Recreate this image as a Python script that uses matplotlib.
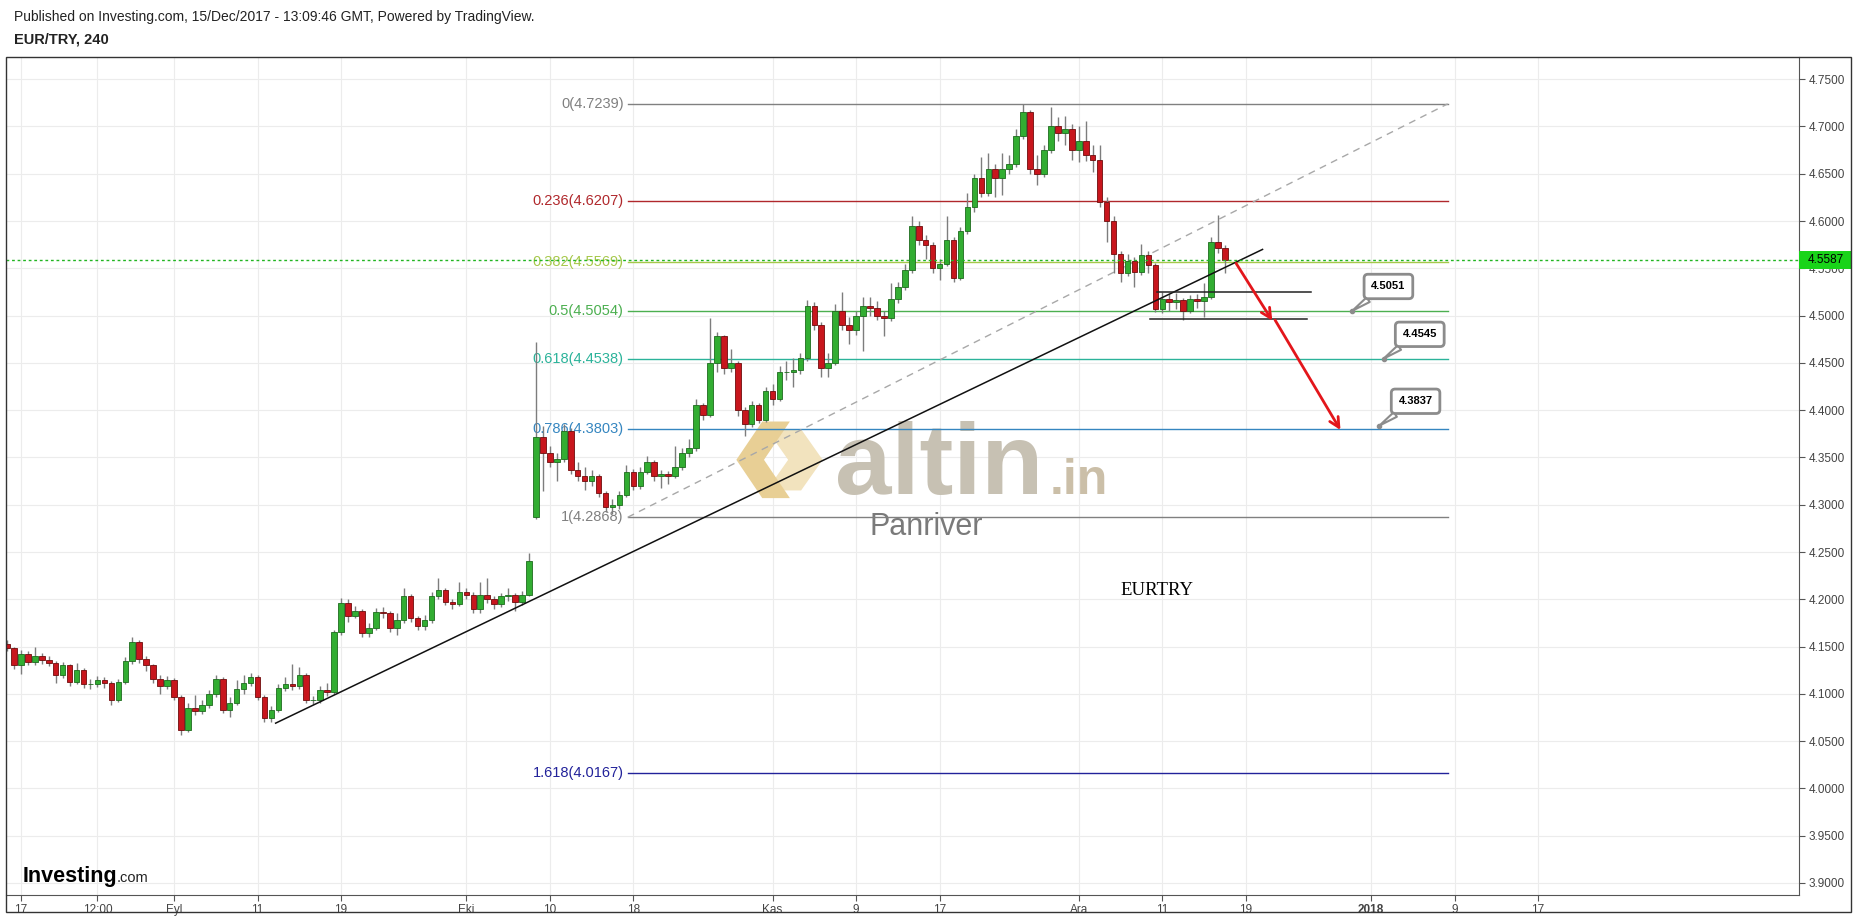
import numpy as np
import matplotlib
matplotlib.use("Agg")
import matplotlib.pyplot as plt
from matplotlib.patches import Rectangle, Polygon

plt.rcParams["font.family"] = ["Liberation Sans", "DejaVu Sans"]

# EUR/TRY, 12h candles (x = trading days from 1 Sep 2017)
bar_start = -12.0
bar_step = 0.5
first_open = 4.153
gap_opens = {76: 4.287}

closes = [
    4.148, 4.130, 4.142, 4.134, 4.140, 4.136, 4.133, 4.120, 4.130, 4.113,
    4.125, 4.110, 4.110, 4.115, 4.112, 4.093, 4.113, 4.135, 4.155, 4.137,
    4.130, 4.116, 4.108, 4.115, 4.097, 4.062, 4.085, 4.082, 4.088, 4.100,
    4.116, 4.083, 4.090, 4.105, 4.112, 4.118, 4.097, 4.074, 4.083, 4.106,
    4.110, 4.108, 4.120, 4.093, 4.093, 4.104, 4.102, 4.165, 4.196, 4.182,
    4.188, 4.164, 4.170, 4.187, 4.185, 4.170, 4.178, 4.204, 4.180, 4.172,
    4.178, 4.203, 4.210, 4.197, 4.195, 4.208, 4.205, 4.190, 4.205, 4.200,
    4.195, 4.203, 4.205, 4.197, 4.205, 4.240, 4.372, 4.355, 4.345, 4.348,
    4.378, 4.337, 4.330, 4.325, 4.330, 4.312, 4.298, 4.300, 4.310, 4.335,
    4.320, 4.335, 4.345, 4.330, 4.332, 4.330, 4.340, 4.355, 4.360, 4.405,
    4.395, 4.450, 4.478, 4.445, 4.450, 4.400, 4.385, 4.405, 4.390, 4.420,
    4.412, 4.440, 4.440, 4.443, 4.455, 4.510, 4.490, 4.445, 4.450, 4.505,
    4.490, 4.485, 4.500, 4.510, 4.508, 4.500, 4.497, 4.518, 4.530, 4.548,
    4.595, 4.580, 4.575, 4.550, 4.555, 4.580, 4.540, 4.590, 4.615, 4.645,
    4.630, 4.655, 4.645, 4.655, 4.660, 4.690, 4.715, 4.655, 4.650, 4.675,
    4.700, 4.693, 4.697, 4.675, 4.685, 4.670, 4.665, 4.620, 4.600, 4.565,
    4.545, 4.558, 4.546, 4.564, 4.553, 4.507, 4.518, 4.514, 4.516, 4.505,
    4.518, 4.515, 4.520, 4.578, 4.572, 4.5587,
]
highs = [
    4.157, 4.150, 4.146, 4.145, 4.150, 4.143, 4.140, 4.135, 4.134, 4.132,
    4.133, 4.127, 4.116, 4.119, 4.118, 4.114, 4.116, 4.139, 4.160, 4.157,
    4.140, 4.132, 4.120, 4.119, 4.117, 4.099, 4.090, 4.099, 4.094, 4.104,
    4.120, 4.118, 4.097, 4.115, 4.120, 4.122, 4.120, 4.099, 4.087, 4.110,
    4.118, 4.132, 4.128, 4.122, 4.098, 4.108, 4.112, 4.168, 4.201, 4.200,
    4.193, 4.190, 4.175, 4.191, 4.192, 4.188, 4.185, 4.212, 4.206, 4.182,
    4.183, 4.208, 4.223, 4.212, 4.200, 4.218, 4.212, 4.208, 4.218, 4.222,
    4.204, 4.207, 4.212, 4.207, 4.209, 4.249, 4.472, 4.383, 4.362, 4.355,
    4.385, 4.381, 4.345, 4.340, 4.337, 4.333, 4.314, 4.306, 4.314, 4.342,
    4.338, 4.340, 4.352, 4.347, 4.337, 4.336, 4.362, 4.360, 4.370, 4.412,
    4.408, 4.497, 4.483, 4.480, 4.465, 4.452, 4.403, 4.410, 4.408, 4.425,
    4.428, 4.447, 4.452, 4.455, 4.460, 4.516, 4.514, 4.493, 4.460, 4.512,
    4.525, 4.498, 4.505, 4.520, 4.520, 4.515, 4.505, 4.535, 4.536, 4.555,
    4.605, 4.600, 4.585, 4.578, 4.560, 4.605, 4.583, 4.594, 4.630, 4.650,
    4.668, 4.672, 4.660, 4.672, 4.670, 4.697, 4.724, 4.717, 4.670, 4.680,
    4.721, 4.710, 4.711, 4.703, 4.700, 4.706, 4.680, 4.680, 4.625, 4.605,
    4.568, 4.565, 4.562, 4.576, 4.568, 4.556, 4.525, 4.523, 4.524, 4.519,
    4.522, 4.523, 4.535, 4.583, 4.606, 4.575,
]
lows = [
    4.145, 4.126, 4.121, 4.130, 4.131, 4.132, 4.129, 4.112, 4.117, 4.108,
    4.110, 4.106, 4.105, 4.107, 4.106, 4.088, 4.091, 4.110, 4.132, 4.133,
    4.124, 4.112, 4.100, 4.105, 4.094, 4.057, 4.060, 4.078, 4.079, 4.085,
    4.097, 4.080, 4.076, 4.088, 4.100, 4.108, 4.094, 4.070, 4.070, 4.081,
    4.103, 4.104, 4.105, 4.090, 4.089, 4.090, 4.098, 4.100, 4.162, 4.176,
    4.180, 4.160, 4.160, 4.167, 4.180, 4.165, 4.162, 4.175, 4.176, 4.168,
    4.167, 4.175, 4.200, 4.194, 4.190, 4.193, 4.200, 4.186, 4.185, 4.196,
    4.190, 4.192, 4.198, 4.188, 4.194, 4.203, 4.285, 4.314, 4.340, 4.325,
    4.345, 4.333, 4.325, 4.316, 4.320, 4.308, 4.292, 4.290, 4.296, 4.308,
    4.316, 4.317, 4.332, 4.325, 4.318, 4.322, 4.328, 4.337, 4.350, 4.357,
    4.390, 4.393, 4.440, 4.438, 4.440, 4.394, 4.373, 4.382, 4.386, 4.387,
    4.405, 4.410, 4.432, 4.425, 4.438, 4.452, 4.485, 4.435, 4.435, 4.448,
    4.485, 4.470, 4.480, 4.463, 4.500, 4.495, 4.478, 4.494, 4.513, 4.527,
    4.545, 4.575, 4.560, 4.545, 4.538, 4.552, 4.536, 4.538, 4.586, 4.610,
    4.625, 4.627, 4.625, 4.628, 4.650, 4.657, 4.687, 4.650, 4.638, 4.647,
    4.672, 4.685, 4.680, 4.665, 4.662, 4.663, 4.652, 4.615, 4.578, 4.545,
    4.536, 4.542, 4.530, 4.543, 4.545, 4.504, 4.503, 4.505, 4.507, 4.495,
    4.503, 4.508, 4.498, 4.518, 4.566, 4.545,
]

# Fibonacci retracement drawn on the chart
fib_ratios = ["0", "0.236", "0.382", "0.5", "0.618", "0.786", "1", "1.618"]
fib_prices = [4.7239, 4.6207, 4.5569, 4.5054, 4.4538, 4.3803, 4.2868, 4.0167]
fib_colors = ["#808080", "#b0282c", "#a6c84a", "#4caf50", "#2bb39a",
              "#3586c0", "#808080", "#22229a"]
fib_span = [32.6, 91.5]

trend_x = [7.3, 78.2]
trend_y = [4.069, 4.570]
range_lines = [(70.6, 81.7, 4.5253), (70.1, 81.4, 4.4961)]
red_arrows = [((76.3, 4.5553), (78.9, 4.4946)), ((79.1, 4.4953), (83.8, 4.379))]
target_values = [4.5051, 4.4545, 4.3837]
target_x = [84.65, 86.9, 86.6]
last_price = 4.5587

x_tick_pos = [-11, -5.5, 0, 6, 12, 21, 27, 33, 43, 49, 55, 65, 71, 77, 86, 92, 98]
x_tick_labels = ["17", "12:00", "Eyl", "11", "19", "Eki", "10", "18", "Kas",
                 "9", "17", "Ara", "11", "19", "2018", "9", "17"]
y_ticks = [3.90, 3.95, 4.00, 4.05, 4.10, 4.15, 4.20, 4.25, 4.30, 4.35,
           4.40, 4.45, 4.50, 4.55, 4.60, 4.65, 4.70, 4.75]


def main() -> None:
    W, H = 1853, 918
    fig = plt.figure(figsize=(W / 100, H / 100), dpi=100)
    ax = fig.add_axes([6 / W, 1 - 894.6 / H, (1799 - 6) / W, (894.6 - 56.7) / H])
    ax.set_xlim(-12.07, 116.74)
    ax.set_ylim(3.8877, 4.7738)

    # candles
    xs = bar_start + bar_step * np.arange(len(closes))
    opens = [first_open] + closes[:-1]
    for k, v in gap_opens.items():
        opens[k] = v
    o = np.array(opens)
    c = np.array(closes)
    hi = np.maximum(np.array(highs), np.maximum(o, c))
    lo = np.minimum(np.array(lows), np.minimum(o, c))
    up = c >= o
    ax.vlines(xs, lo, hi, color="#7d7d7d", lw=1, zorder=3)
    body_h = np.maximum(np.abs(c - o), 0.0008)
    ax.bar(xs[up], body_h[up], bottom=np.minimum(o, c)[up], width=0.4,
           color="#32ad32", edgecolor="#1d6b1d", lw=0.6, zorder=4)
    ax.bar(xs[~up], body_h[~up], bottom=np.minimum(o, c)[~up], width=0.4,
           color="#c8161d", edgecolor="#6e0c0c", lw=0.6, zorder=4)

    # fibonacci levels
    for r, p, col in zip(fib_ratios, fib_prices, fib_colors):
        ax.plot(fib_span, [p, p], color=col, lw=1, zorder=2.5)
        ax.text(fib_span[0] - 0.3, p, f"{r}({p:.4f})", color=col, fontsize=10.5,
                ha="right", va="center", zorder=2.6)
    ax.plot(fib_span, [fib_prices[-2], fib_prices[0]], color="#a8a8a8", lw=1,
            ls=(0, (5, 4)), zorder=2.5)

    # trend line, range lines, projected arrows
    ax.plot(trend_x, trend_y, color="#111111", lw=1.1, zorder=5)
    for x0, x1, yv in range_lines:
        ax.plot([x0, x1], [yv, yv], color="#222222", lw=1.1, zorder=5)
    for start, end in red_arrows:
        ax.annotate("", xy=end, xytext=start, zorder=6,
                    arrowprops=dict(arrowstyle="->,head_length=0.7,head_width=0.35",
                                    color="#e3161b", lw=2, shrinkA=0, shrinkB=0))

    # target callouts
    for xv, val in zip(target_x, target_values):
        ax.plot([xv], [val], "o", color="#8c8c8c", ms=3, zorder=6)
        ax.annotate(f"{val:.4f}", xy=(xv, val), xytext=(26, 17.5),
                    textcoords="offset points", ha="center", va="center",
                    fontsize=8, fontweight="bold", color="black", zorder=7,
                    bbox=dict(boxstyle="round,pad=0.65,rounding_size=0.35",
                              fc="white", ec="#8c8c8c", lw=2),
                    arrowprops=dict(arrowstyle="wedge,tail_width=0.5,shrink_factor=0.5",
                                    fc="white", ec="#8c8c8c", lw=1.5,
                                    relpos=(0.25, 0.0), shrinkA=0, shrinkB=0))

    # last price line and label
    ax.axhline(last_price, color="#22b522", lw=1, ls=(0, (2, 2)), zorder=5)
    ax.add_patch(Rectangle((1.0, last_price - 0.0094), 0.0295, 0.0188,
                           transform=ax.get_yaxis_transform(), clip_on=False,
                           fc="#19d419", ec="none", zorder=10))
    ax.text(1.005, last_price, f"{last_price:.4f}", transform=ax.get_yaxis_transform(),
            fontsize=8.5, color="black", va="center", ha="left", zorder=11,
            clip_on=False)

    # watermark
    logo_x0, logo_x1, logo_y0, logo_y1 = 40.4, 46.6, 4.307, 4.388
    def lp(u, v):
        return (logo_x0 + u * (logo_x1 - logo_x0), logo_y0 + v * (logo_y1 - logo_y0))
    back = [lp(*p) for p in [(0.35, 0.9), (0.75, 0.9), (1.0, 0.5), (0.75, 0.1),
                             (0.35, 0.1), (0.6, 0.5)]]
    front = [lp(*p) for p in [(0.0, 0.5), (0.3, 1.0), (0.62, 1.0), (0.32, 0.5),
                              (0.62, 0.0), (0.3, 0.0)]]
    ax.add_patch(Polygon(back, closed=True, fc="#f2e3be", ec="none", zorder=1))
    ax.add_patch(Polygon(front, closed=True, fc="#e8cf95", ec="none", zorder=1.1))
    ax.text(47.5, 4.3113, "altin", fontsize=73, fontweight="bold", color="#c7c1b3",
            va="baseline", ha="left", zorder=1)
    ax.text(62.9, 4.3113, ".in", fontsize=36, fontweight="bold", color="#cbbfa8",
            va="baseline", ha="left", zorder=1)
    ax.text(54.06, 4.2765, "Panriver", fontsize=22, color="#7a7a7a",
            va="center", ha="center", zorder=1)
    ax.text(68.0, 4.2088, "EURTRY", family="Liberation Serif", fontsize=13.5,
            color="black", va="center", ha="left", zorder=5)

    # axes styling
    ax.set_xticks(x_tick_pos)
    ax.set_xticklabels(x_tick_labels)
    ax.get_xticklabels()[14].set_fontweight("bold")
    ax.set_yticks(y_ticks)
    ax.set_yticklabels([f"{t:.4f}" for t in y_ticks])
    ax.yaxis.tick_right()
    ax.tick_params(axis="both", direction="out", length=4, color="#555555",
                   labelsize=8.5, labelcolor="#444444", pad=3)
    ax.grid(color="#ececec", lw=0.8, zorder=0)
    ax.set_axisbelow(True)
    for side in ("top", "left"):
        ax.spines[side].set_visible(False)
    for side in ("right", "bottom"):
        ax.spines[side].set_color("#555555")

    # outer frame and header/footer texts
    fig.add_artist(Rectangle((6 / W, 1 - 912 / H), (1851 - 6) / W, (912 - 56.7) / H,
                             transform=fig.transFigure, fill=False, ec="#333333", lw=1))
    fig.text(14 / W, 1 - 16.5 / H,
             "Published on Investing.com, 15/Dec/2017 - 13:09:46 GMT, Powered by TradingView.",
             fontsize=10, color="#222222", va="center")
    fig.text(14 / W, 1 - 39 / H, "EUR/TRY, 240", fontsize=10.5, fontweight="bold",
             color="#222222", va="center")
    fig.text(23 / W, 1 - 882 / H, "Investing", fontsize=15.5, fontweight="bold",
             color="black", va="baseline")
    fig.text(117 / W, 1 - 882 / H, ".com", fontsize=10.5, color="#222222",
             va="baseline")

    fig.savefig("out.png", dpi=100)


if __name__ == "__main__":
    main()
